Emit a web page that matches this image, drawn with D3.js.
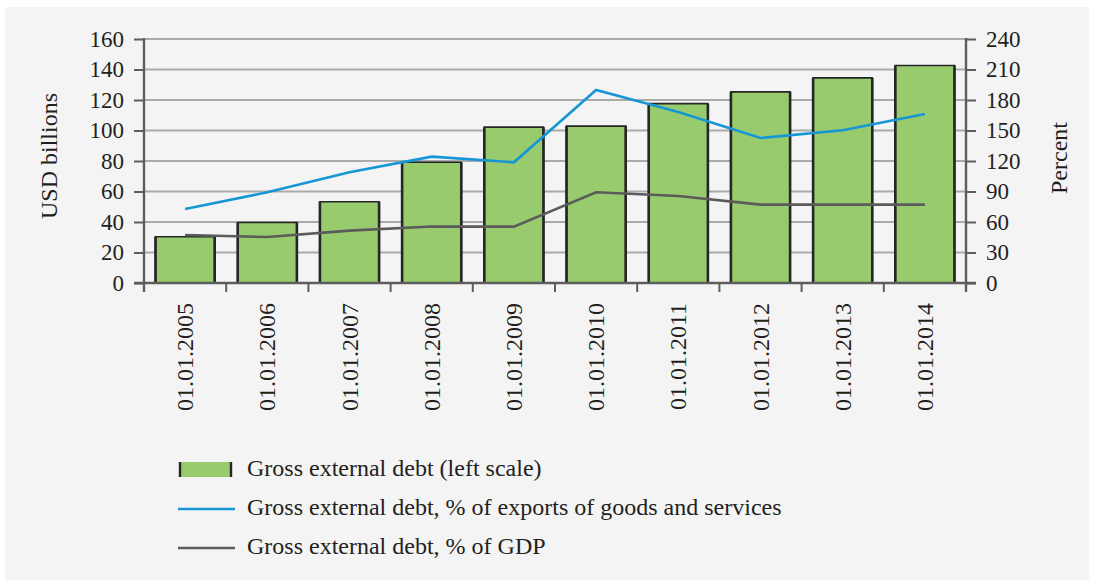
<!DOCTYPE html>
<html>
<head>
<meta charset="utf-8">
<script src="https://cdn.jsdelivr.net/npm/d3@7"></script>
<style>
  html, body { margin: 0; padding: 0; background: #ffffff; }
  svg { display: block; }
</style>
</head>
<body>
<svg id="chart" width="1093" height="580"></svg>
<script>
// Gross external debt, USD billions (left scale)
const dates = ["01.01.2005", "01.01.2006", "01.01.2007", "01.01.2008", "01.01.2009",
               "01.01.2010", "01.01.2011", "01.01.2012", "01.01.2013", "01.01.2014"];
const debtUsd = [30.3, 39.7, 53.3, 79.2, 102.2, 102.9, 117.6, 125.3, 134.5, 142.6];
// Percent (right scale)
const debtPctExports = [72.8, 89.2, 108.9, 124.3, 118.7, 189.8, 168.2, 142.6, 150.2, 166.2];
const debtPctGdp = [47.2, 45.2, 51.5, 55.5, 55.5, 89.2, 85.6, 77.1, 77.1, 77.1];
const leftTicks = [0, 20, 40, 60, 80, 100, 120, 140, 160];
const rightTicks = [0, 30, 60, 90, 120, 150, 180, 210, 240];
const legendLabels = ["Gross external debt (left scale)",
                      "Gross external debt, % of exports of goods and services",
                      "Gross external debt, % of GDP"];

// pick the first serif face that is really installed
function firstInstalled(list) {
  const ctx = document.createElement("canvas").getContext("2d");
  const probe = "01.01.2005 Gross external debt";
  ctx.font = "40px monospace";
  const base = ctx.measureText(probe).width;
  for (const f of list) {
    ctx.font = `40px "${f}", monospace`;
    if (Math.abs(ctx.measureText(probe).width - base) > 0.5) return `"${f}"`;
  }
  return "serif";
}
const serif = firstInstalled(["Liberation Serif", "Times New Roman", "Tinos", "DejaVu Serif"]);

const svg = d3.select("#chart").attr("font-family", serif);
const plot = { left: 144, right: 966, top: 39, bottom: 283 };
const colors = { bar: "#98cb6e", barEdge: "#262626", blue: "#1796d6", gray: "#5b5b5b",
                 grid: "#aaaaaa", axis: "#5d5d5d", text: "#231f20" };

// panel background
svg.append("rect").attr("x", 5).attr("y", 7).attr("width", 1084).attr("height", 573)
  .attr("fill", "#f4f4f4");

const x = d3.scaleBand().domain(dates).range([plot.left, plot.right]).paddingInner(0.28).paddingOuter(0.14);
const yL = d3.scaleLinear().domain([0, 160]).range([plot.bottom, plot.top]);
const yR = d3.scaleLinear().domain([0, 240]).range([plot.bottom, plot.top]);
const center = d => x(d) + x.bandwidth() / 2;

// horizontal gridlines
svg.append("g").selectAll("line").data(leftTicks.slice(1)).join("line")
  .attr("x1", plot.left).attr("x2", plot.right)
  .attr("y1", d => yL(d)).attr("y2", d => yL(d))
  .attr("stroke", colors.grid).attr("stroke-width", 2);

// bars
const bars = svg.append("g");
bars.selectAll("rect").data(debtUsd).join("rect")
  .attr("x", (d, i) => x(dates[i]))
  .attr("width", x.bandwidth())
  .attr("y", d => yL(d))
  .attr("height", d => yL(0) - yL(d))
  .attr("fill", colors.bar);
bars.selectAll("path.edge").data(debtUsd).join("path")
  .attr("class", "edge")
  .attr("d", (d, i) => {
    const x0 = x(dates[i]), x1 = x0 + x.bandwidth();
    return `M${x0},${yL(0)}V${yL(d)}H${x1}V${yL(0)}`;
  })
  .attr("fill", "none").attr("stroke", colors.barEdge).attr("stroke-width", 1.6);
bars.selectAll("path.side").data(debtUsd).join("path")
  .attr("class", "side")
  .attr("d", (d, i) => {
    const x0 = x(dates[i]), x1 = x0 + x.bandwidth();
    return `M${x0},${yL(0)}V${yL(d)}M${x1},${yL(0)}V${yL(d)}`;
  })
  .attr("fill", "none").attr("stroke", colors.barEdge).attr("stroke-width", 2.6);

// lines
const lineGen = yScale => d3.line().x((d, i) => center(dates[i])).y(d => yScale(d));
svg.append("path").datum(debtPctGdp).attr("d", lineGen(yR))
  .attr("fill", "none").attr("stroke", colors.gray).attr("stroke-width", 2.6);
svg.append("path").datum(debtPctExports).attr("d", lineGen(yR))
  .attr("fill", "none").attr("stroke", colors.blue).attr("stroke-width", 2.6);

// axes
function styleAxis(g) {
  g.attr("font-family", serif).attr("font-size", 23);
  g.select(".domain").remove();
  g.selectAll(".tick line").attr("stroke", colors.axis).attr("stroke-width", 2);
  g.selectAll(".tick text").attr("fill", colors.text);
}
svg.append("g").attr("transform", `translate(${plot.left},0)`)
  .call(d3.axisLeft(yL).tickValues(leftTicks).tickSize(10).tickPadding(10))
  .call(styleAxis);
svg.append("g").attr("transform", `translate(${plot.right},0)`)
  .call(d3.axisRight(yR).tickValues(rightTicks).tickSize(10).tickPadding(10))
  .call(styleAxis);

// x axis: ticks at category boundaries
const step = x.step();
const bounds = dates.map(d => x(d) - (step - x.bandwidth()) / 2);
bounds.push(plot.right);
svg.append("g").selectAll("line").data(bounds).join("line")
  .attr("x1", d => d).attr("x2", d => d)
  .attr("y1", plot.bottom).attr("y2", plot.bottom + 9)
  .attr("stroke", colors.axis).attr("stroke-width", 2);
svg.append("line").attr("x1", plot.left - 10).attr("x2", plot.right + 10)
  .attr("y1", plot.bottom).attr("y2", plot.bottom)
  .attr("stroke", colors.axis).attr("stroke-width", 2.4);
svg.append("line").attr("x1", plot.left).attr("x2", plot.left)
  .attr("y1", plot.top - 1).attr("y2", plot.bottom + 9)
  .attr("stroke", colors.axis).attr("stroke-width", 2.4);
svg.append("line").attr("x1", plot.right).attr("x2", plot.right)
  .attr("y1", plot.top - 1).attr("y2", plot.bottom + 9)
  .attr("stroke", colors.axis).attr("stroke-width", 2.4);

svg.append("g").selectAll("text").data(dates).join("text")
  .attr("transform", d => `translate(${center(d) + 8},303) rotate(-90)`)
  .attr("text-anchor", "end")
  .attr("font-size", 24).attr("fill", colors.text)
  .text(d => d);

// axis titles
svg.append("text").attr("transform", "translate(57,156) rotate(-90)")
  .attr("text-anchor", "middle").attr("font-size", 24).attr("fill", colors.text).text("USD billions");
svg.append("text").attr("transform", "translate(1067,158) rotate(-90)")
  .attr("text-anchor", "middle").attr("font-size", 24).attr("fill", colors.text).text("Percent");

// legend
const lg = svg.append("g");
const rowY = [469, 509, 548];
lg.append("rect").attr("x", 179).attr("y", 462).attr("width", 53).attr("height", 15)
  .attr("fill", colors.bar);
lg.append("path").attr("d", "M180,462v15M231,462v15")
  .attr("stroke", colors.barEdge).attr("stroke-width", 2.4);
lg.append("line").attr("x1", 178).attr("x2", 235).attr("y1", rowY[1]).attr("y2", rowY[1])
  .attr("stroke", colors.blue).attr("stroke-width", 2.6);
lg.append("line").attr("x1", 178).attr("x2", 235).attr("y1", rowY[2]).attr("y2", rowY[2])
  .attr("stroke", colors.gray).attr("stroke-width", 2.6);
lg.selectAll("text").data(legendLabels).join("text")
  .attr("x", 247).attr("y", (d, i) => [476, 515, 554][i])
  .attr("font-size", 24).attr("fill", colors.text)
  .text(d => d);
</script>
</body>
</html>
